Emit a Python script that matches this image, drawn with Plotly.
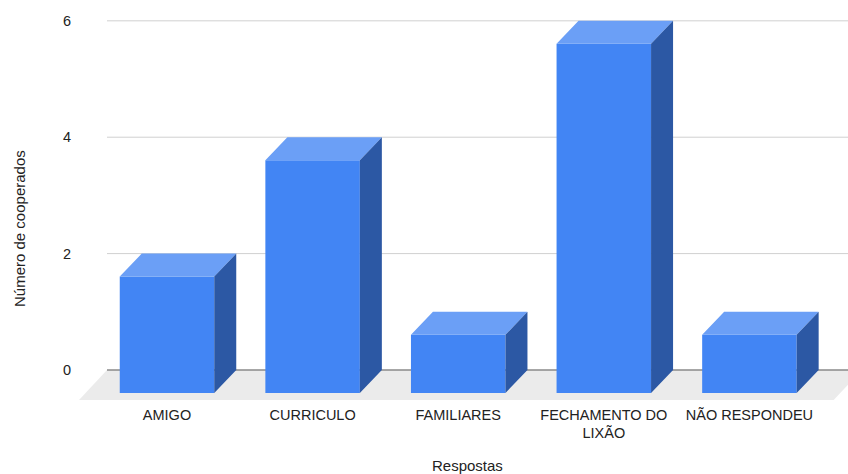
import plotly.graph_objects as go

# ---- data ----
categories = ["AMIGO", "CURRICULO", "FAMILIARES", "FECHAMENTO DO<br>LIXÃO", "NÃO RESPONDEU"]
values = [2, 4, 1, 6, 1]
y_ticks = [0, 2, 4, 6]
x_title = "Respostas"
y_title = "Número de cooperados"

# ---- layout geometry ----
W, H = 848, 474
ML, MR, MT, MB = 79, 0, 10, 72
plot_w = W - ML - MR
plot_h = H - MT - MB
x_range = [-0.7555, 4.526]
y_range = [-0.55, 6.186]
px_x = plot_w / (x_range[1] - x_range[0])
px_y = plot_h / (y_range[1] - y_range[0])

bar_half = 0.3245
bdx, bdy = 22 / px_x, 23 / px_y        # bar depth offset
fdx, fdy = 28 / px_x, 30 / px_y        # floor depth offset
floor_right = 4.62

FRONT = "#4285f4"
TOP = "#6b9ff6"
SIDE = "#2c58a4"
FONT = "Liberation Sans, Arial, sans-serif"

idx = list(range(len(categories)))

fig = go.Figure()

# front faces
fig.add_trace(go.Bar(
    x=[i - bdx for i in idx], y=values, base=-bdy, width=2 * bar_half,
    marker=dict(color=FRONT, line=dict(width=0)), hoverinfo="skip", showlegend=False,
))

# top faces and side faces
tx, ty, sx, sy = [], [], [], []
for i, v in zip(idx, values):
    tx += [i - bdx - bar_half, i - bdx + bar_half, i + bar_half, i - bar_half, i - bdx - bar_half, None]
    ty += [v - bdy, v - bdy, v, v, v - bdy, None]
    sx += [i - bdx + bar_half, i + bar_half, i + bar_half, i - bdx + bar_half, i - bdx + bar_half, None]
    sy += [v - bdy, v, 0, -bdy, v - bdy, None]
fig.add_trace(go.Scatter(x=tx, y=ty, mode="none", fill="toself", fillcolor=TOP,
                         hoverinfo="skip", showlegend=False))
fig.add_trace(go.Scatter(x=sx, y=sy, mode="none", fill="toself", fillcolor=SIDE,
                         hoverinfo="skip", showlegend=False))

shapes = []
# floor
xl = x_range[0]
shapes.append(dict(
    type="path", xref="x", yref="y", layer="below",
    path=f"M {xl + fdx},0 L {floor_right},0 L {floor_right - fdx},{-fdy} L {xl},{-fdy} Z",
    fillcolor="#ebebeb", line=dict(width=0),
))
# gridlines on back plane
for t in y_ticks:
    shapes.append(dict(
        type="line", xref="x", yref="y", layer="below",
        x0=xl + fdx, x1=x_range[1], y0=t, y1=t,
        line=dict(color="#555555" if t == 0 else "#d0d0d0", width=1),
    ))

fig.update_layout(
    width=W, height=H,
    margin=dict(l=ML, r=MR, t=MT, b=MB),
    paper_bgcolor="white", plot_bgcolor="white",
    font=dict(family=FONT, size=14, color="#222222"),
    shapes=shapes,
    xaxis=dict(range=x_range, showgrid=False, zeroline=False, showline=False,
               tickmode="array", tickvals=[i - bdx for i in idx], ticktext=categories,
               ticks="", ticklabelstandoff=2, tickfont=dict(size=14.5, color="#222222")),
    yaxis=dict(range=y_range, showgrid=False, zeroline=False, showline=False,
               tickmode="array", tickvals=y_ticks, ticks="", ticklabelstandoff=7,
               tickfont=dict(size=14.5, color="#222222")),
    annotations=[
        dict(text=y_title, xref="paper", yref="paper",
             x=(19 - ML) / plot_w, y=(MT + plot_h - 228) / plot_h,
             xanchor="center", yanchor="middle", textangle=-90, showarrow=False,
             font=dict(size=15, color="#222222")),
        dict(text=x_title, xref="paper", yref="paper",
             x=(467.5 - ML) / plot_w, y=(MT + plot_h - 465.5) / plot_h,
             xanchor="center", yanchor="middle", showarrow=False,
             font=dict(size=15, color="#222222")),
    ],
    showlegend=False,
)

fig.write_html("out.html", config={"displayModeBar": False},
               post_script="document.body.style.margin='0';document.body.style.overflow='hidden';")
